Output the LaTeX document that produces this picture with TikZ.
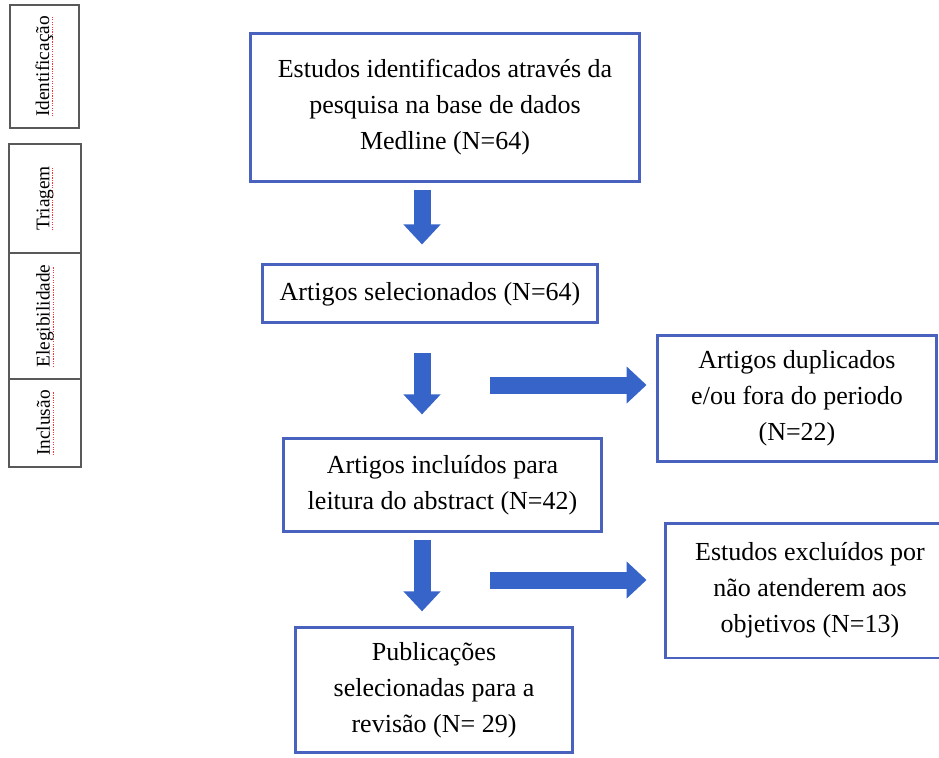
\documentclass[tikz,border=0pt]{standalone}
\usepackage{fontspec}
\setmainfont{Liberation Serif}
\usetikzlibrary{arrows.meta, positioning}

\definecolor{boxblue}{RGB}{72,98,190}
\definecolor{arrowblue}{RGB}{55,100,200}

% red dotted line under a word (spell check marks)
\newcommand{\spellmark}[1]{\setbox0\hbox{#1}%
  \rlap{\color{red!80}\raisebox{-2.2pt}{\leaders\hbox to 1.4pt{\hss\rule{0.7pt}{0.45pt}\hss}\hskip\wd0}}\box0}

\begin{document}
\begin{tikzpicture}[
      x = 0.02cm, y = -0.02cm,              % one unit = one pixel of the sketch
      > = {Triangle[width=0.72cm, length=0.4cm]}, % head of the block arrows
      font = \fontsize{14.8}{20.5}\selectfont
    ]

    \tikzstyle{B1}=[      % Blue box of the flow
      draw = boxblue,
      line width = 1.7pt,
      align = center,
      inner sep = 2pt
    ]

    \tikzstyle{T1}=[      % Tag on the left, turned upright
      draw = black!65,
      line width = 0.9pt,
      rotate = 90,
      inner sep = 0pt,
      font = \fontsize{11}{13}\selectfont
    ]

    \tikzstyle{A1}=[      % Thick block arrow
      ->,
      draw = arrowblue,
      line width = 0.34cm
    ]

    \useasboundingbox (0,0) rectangle (939,757);
    \clip (0,0) rectangle (939,757);

    % Tags of the phases
    \node[T1, minimum width=2.46cm, minimum height=1.38cm] (idf) at (44.5,66.5) {\spellmark{Identificação}};
    \node[T1, minimum width=2.18cm, minimum height=1.44cm] (tri) at (45,198.5) {\spellmark{Triagem}};
    \node[T1, minimum width=2.52cm, minimum height=1.44cm] (ele) at (45,316) {\spellmark{Elegibilidade}};
    \node[T1, minimum width=1.76cm, minimum height=1.44cm] (inl) at (45,423) {\spellmark{Inclusão}};

    % Boxes of the flow
    \node[B1, minimum width=7.8cm, minimum height=2.98cm] (ide) at (445,107.5)
      {Estudos identificados através da\\ pesquisa na base de dados\\ Medline (N=64)};
    \node[B1, minimum width=6.72cm, minimum height=1.16cm] (sel) [below=1.60cm of ide, xshift=-0.3cm]
      {Artigos selecionados (N=64)};
    \node[B1, minimum width=6.38cm, minimum height=1.86cm] (inc) [below=2.26cm of sel, xshift=0.25cm]
      {Artigos incluídos para\\ leitura do abstract (N=42)};
    \node[B1, minimum width=5.56cm, minimum height=2.5cm] (pub) [below=1.86cm of inc, xshift=-0.17cm]
      {Publicações\\ selecionadas para a\\ revisão (N= 29)};
    \node[B1, minimum width=5.6cm, minimum height=2.54cm] (dup) at (797,398.5)
      {Artigos duplicados\\ e/ou fora do periodo\\ (N=22)};
    \node[B1, minimum width=5.8cm, minimum height=2.7cm] (exc) at (810,590.5)
      {Estudos excluídos por\\ não atenderem aos\\ objetivos (N=13)};

    % Block arrows
    \coordinate (ax) at (422,0);
    \coordinate (r1) at (490,385);
    \coordinate (r2) at (490,580);
    \draw[A1, shorten <=0.14cm, shorten >=0.38cm] (ax |- ide.south) -- (ax |- sel.north);
    \draw[A1, shorten <=0.58cm, shorten >=0.46cm] (ax |- sel.south) -- (ax |- inc.north);
    \draw[A1, shorten <=0.14cm, shorten >=0.3cm] (ax |- inc.south) -- (ax |- pub.north);
    \draw[A1, shorten >=0.18cm] (r1) -- (r1 -| dup.west);
    \draw[A1, shorten >=0.34cm] (r2) -- (r2 -| exc.west);

  \end{tikzpicture}
\end{document}
